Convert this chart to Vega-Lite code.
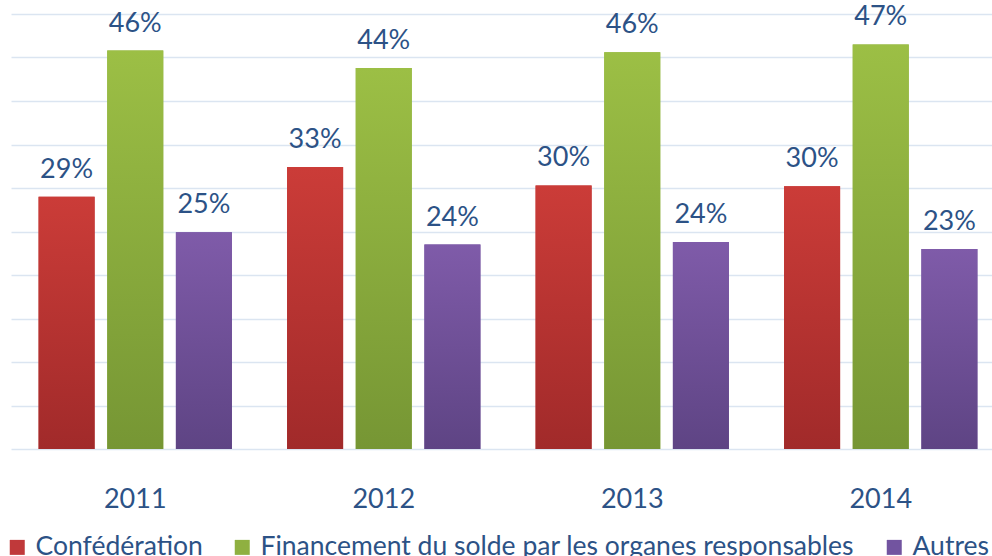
{
  "$schema": "https://vega.github.io/schema/vega-lite/v6.json",
  "autosize": "none",
  "width": 994,
  "height": 435,
  "padding": {"left": 11, "top": 14, "right": 0, "bottom": 107},
  "background": "white",
  "config": {
    "font": "Lato",
    "view": {"stroke": null}
  },
  "data": {
    "values": [
      {"year": "2011", "series": "Confédération", "value": 0.290, "label": "29%"},
      {"year": "2011", "series": "Financement du solde par les organes responsables", "value": 0.458, "label": "46%"},
      {"year": "2011", "series": "Autres", "value": 0.249, "label": "25%"},
      {"year": "2012", "series": "Confédération", "value": 0.324, "label": "33%"},
      {"year": "2012", "series": "Financement du solde par les organes responsables", "value": 0.438, "label": "44%"},
      {"year": "2012", "series": "Autres", "value": 0.235, "label": "24%"},
      {"year": "2013", "series": "Confédération", "value": 0.303, "label": "30%"},
      {"year": "2013", "series": "Financement du solde par les organes responsables", "value": 0.456, "label": "46%"},
      {"year": "2013", "series": "Autres", "value": 0.238, "label": "24%"},
      {"year": "2014", "series": "Confédération", "value": 0.302, "label": "30%"},
      {"year": "2014", "series": "Financement du solde par les organes responsables", "value": 0.465, "label": "47%"},
      {"year": "2014", "series": "Autres", "value": 0.230, "label": "23%"}
    ]
  },
  "encoding": {
    "x": {
      "field": "year", "type": "nominal",
      "scale": {"paddingInner": 0.222, "paddingOuter": 0.111},
      "axis": {
        "title": null, "domain": false, "ticks": false, "grid": false,
        "labelAngle": 0, "labelFont": "Lato", "labelFontSize": 27,
        "labelColor": "#2c5286", "labelBaseline": "alphabetic", "labelPadding": 58
      }
    },
    "xOffset": {
      "field": "series", "type": "nominal",
      "sort": ["Confédération", "Financement du solde par les organes responsables", "Autres"],
      "scale": {"domain": ["Confédération", "Financement du solde par les organes responsables", "Autres"], "paddingInner": 0.184, "paddingOuter": 0}
    },
    "y": {
      "field": "value", "type": "quantitative",
      "scale": {"domain": [0, 0.5], "nice": false},
      "axis": {
        "title": null, "labels": false, "ticks": false, "domain": false,
        "values": [0, 0.05, 0.1, 0.15, 0.2, 0.25, 0.3, 0.35, 0.4, 0.45, 0.5],
        "gridColor": "#dbe5f1", "gridWidth": 1.5
      }
    }
  },
  "layer": [
    {
      "mark": {"type": "bar"},
      "encoding": {
        "color": {
          "field": "series", "type": "nominal",
          "sort": ["Confédération", "Financement du solde par les organes responsables", "Autres"],
          "scale": {
            "domain": ["Confédération", "Financement du solde par les organes responsables", "Autres"],
            "range": ["#c0393a", "#8fb040", "#7254a0"]
          },
          "legend": {
            "title": null, "orient": "none", "direction": "horizontal",
            "legendX": -7, "legendY": 520, "padding": 0,
            "symbolType": "square", "symbolSize": 225, "symbolStrokeWidth": 0,
            "labelFont": "Lato", "labelFontSize": 26.5, "labelColor": "#2c5286",
            "labelOffset": 5, "columnPadding": 26, "labelLimit": 800
          }
        }
      }
    },
    {
      "transform": [{"filter": "datum.series === 'Confédération'"}],
      "mark": {"type": "bar", "fill": {"gradient": "linear", "x1": 0, "y1": 0, "x2": 0, "y2": 1, "stops": [{"offset": 0, "color": "#cb3c38"}, {"offset": 1, "color": "#a12a2a"}]}}
    },
    {
      "transform": [{"filter": "datum.series === 'Financement du solde par les organes responsables'"}],
      "mark": {"type": "bar", "fill": {"gradient": "linear", "x1": 0, "y1": 0, "x2": 0, "y2": 1, "stops": [{"offset": 0, "color": "#9cbf45"}, {"offset": 1, "color": "#769634"}]}}
    },
    {
      "transform": [{"filter": "datum.series === 'Autres'"}],
      "mark": {"type": "bar", "fill": {"gradient": "linear", "x1": 0, "y1": 0, "x2": 0, "y2": 1, "stops": [{"offset": 0, "color": "#7f5ba9"}, {"offset": 1, "color": "#5e4484"}]}}
    },
    {
      "mark": {"type": "text", "baseline": "alphabetic", "dy": -19, "font": "Lato", "fontSize": 27, "color": "#2c5286"},
      "encoding": {
        "text": {"field": "label", "type": "nominal"}
      }
    }
  ]
}
